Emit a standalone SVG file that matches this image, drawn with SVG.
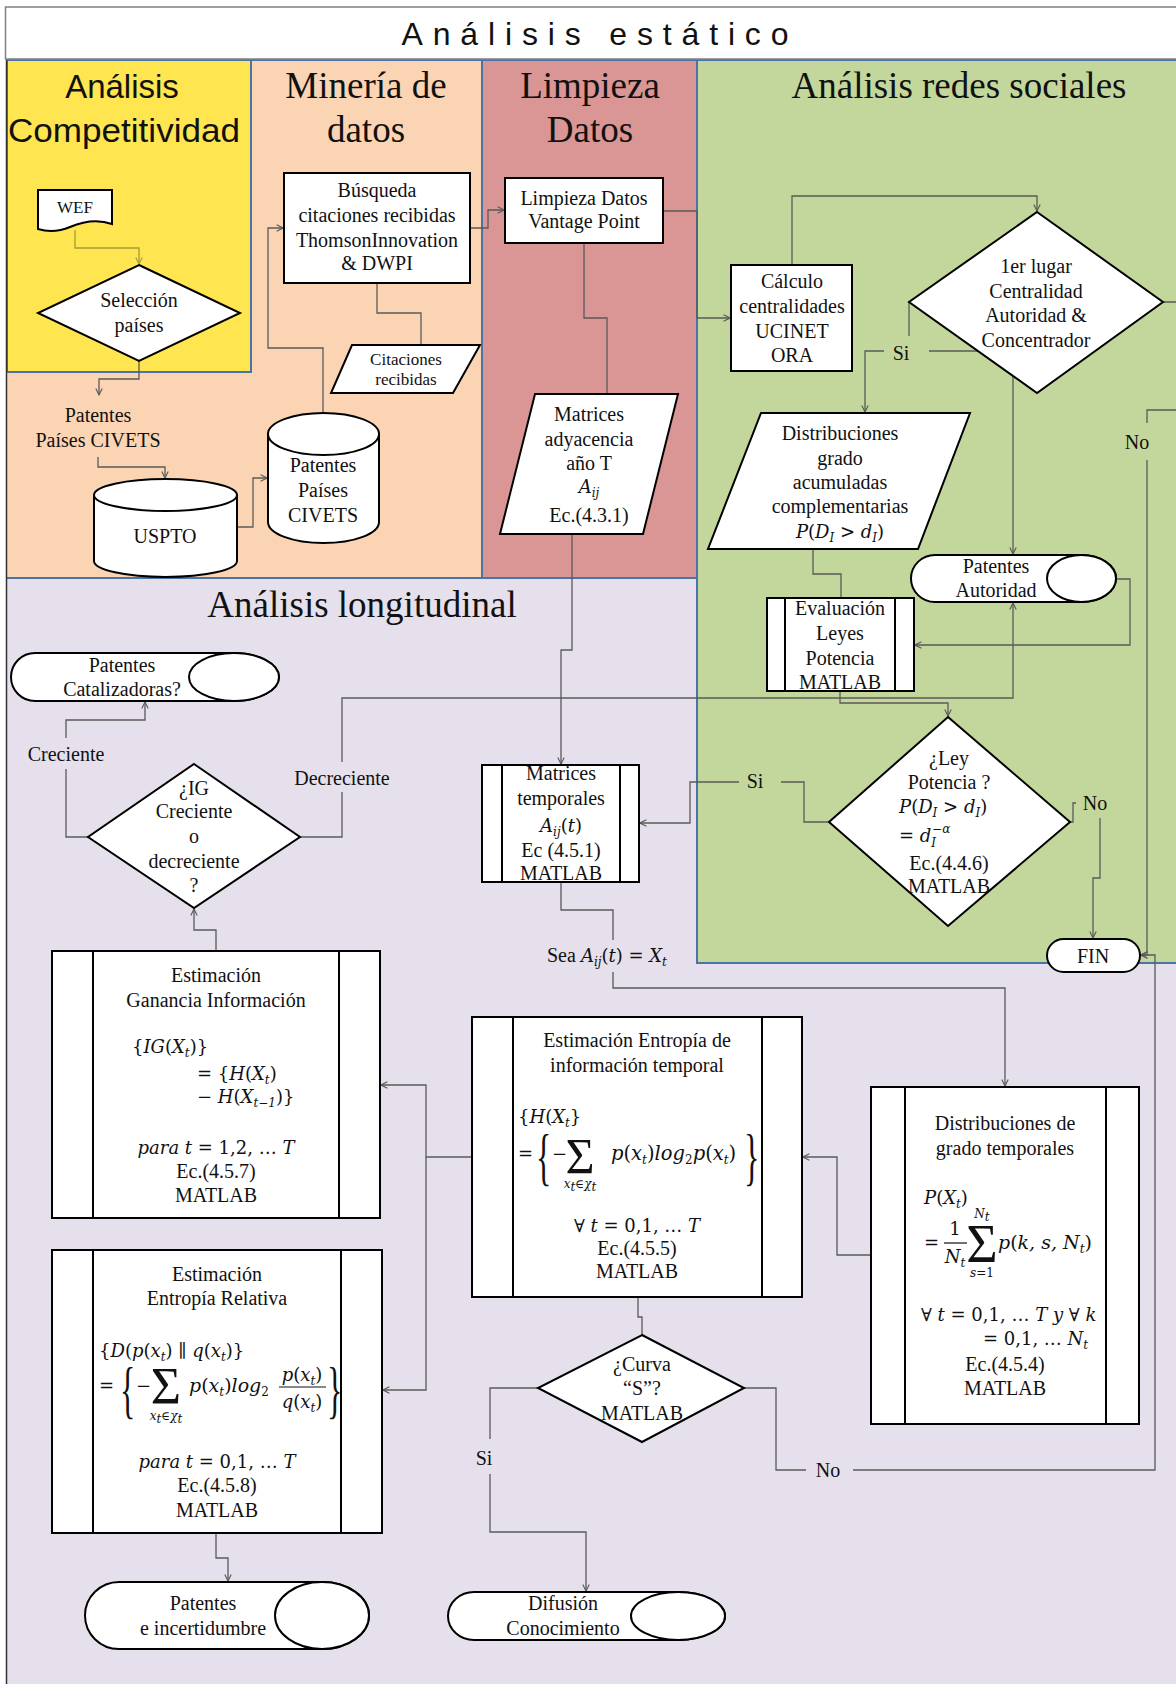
<svg xmlns="http://www.w3.org/2000/svg" width="1176" height="1684" viewBox="0 0 1176 1684">
<defs>
<style>
.tx{font-family:"Liberation Serif","Times New Roman",serif;font-size:20px;fill:#111;text-anchor:middle}
.sm{font-size:17px}
.hd{font-family:"Liberation Serif","Times New Roman",serif;font-size:37px;fill:#111;text-anchor:middle}
.sans{font-family:"Liberation Sans",Arial,sans-serif;fill:#111;text-anchor:middle}
.mt{font-family:"DejaVu Serif",serif;font-style:italic;font-size:18px;fill:#111}
.up{font-style:normal}
.sb{font-size:12px}
.rm{font-family:"Liberation Serif","Times New Roman",serif;font-style:normal;font-size:20px;fill:#111}
.nd{fill:#fff;stroke:#000;stroke-width:2}
.ln{fill:none;stroke:#000;stroke-width:2}
.c{fill:none;stroke:#5a5a5a;stroke-width:1.3}
.ca{fill:none;stroke:#5a5a5a;stroke-width:1.3;marker-end:url(#ar)}
.ol{fill:none;stroke:#9f9f3a;stroke-width:1.3;marker-end:url(#ar2)}
.pb{stroke:#4a73a8;stroke-width:2;fill:none}
</style>
<marker id="ar" viewBox="0 0 10 10" refX="9" refY="5" markerWidth="8" markerHeight="8" markerUnits="userSpaceOnUse" orient="auto">
<path d="M1,1 L9,5 L1,9" fill="none" stroke="#5a5a5a" stroke-width="1.4"/>
</marker>
<marker id="ar2" viewBox="0 0 10 10" refX="9" refY="5" markerWidth="8" markerHeight="8" markerUnits="userSpaceOnUse" orient="auto">
<path d="M1,1 L9,5 L1,9" fill="none" stroke="#9f9f3a" stroke-width="1.4"/>
</marker>
</defs>

<!-- swimlane panels -->
<g id="panels">
<rect x="6" y="60" width="476" height="518" fill="#fbd4b4"/>
<rect x="482" y="60" width="215" height="518" fill="#d99694"/>
<rect x="6" y="578" width="1176" height="1110" fill="#e5e0ec"/>
<rect x="697" y="60" width="485" height="903" fill="#c3d69b"/>
<rect x="7" y="60" width="244" height="312" fill="#ffe54f"/>
<path class="pb" d="M6,60 H1176 M482,60 V578 M697,60 V963 H1176 M6,578 H697"/>
<rect class="pb" x="7" y="60" width="244" height="312"/>
<line x1="6.5" y1="60" x2="6.5" y2="1684" stroke="#333" stroke-width="1.5"/>
<rect x="5.5" y="7" width="1180" height="52" fill="#fff" stroke="#808080" stroke-width="1.5"/>
<text class="sans" x="595" y="45" style="font-size:32px" textLength="387" lengthAdjust="spacing">Análisis estático</text>
<text class="sans" x="122" y="98" style="font-size:33px">Análisis</text>
<text class="sans" x="124" y="142" style="font-size:33px" textLength="232" lengthAdjust="spacingAndGlyphs">Competitividad</text>
<text class="hd" x="366" y="98">Minería de</text>
<text class="hd" x="366" y="142">datos</text>
<text class="hd" x="590" y="98">Limpieza</text>
<text class="hd" x="590" y="142">Datos</text>
<text class="hd" x="959" y="98">Análisis redes sociales</text>
<text class="hd" x="362" y="617">Análisis longitudinal</text>
</g>

<!-- connectors -->
<g id="connectors">
<path class="ol" d="M75,230 V248 H139 V264"/>
<path class="ca" d="M139,361 V379 H99 V395"/>
<path class="ca" d="M98,457 V467 H165 V478"/>
<path class="ca" d="M237,527 H253 V478 H267"/>
<path class="ca" d="M323,413 V348 H268 V228 H283"/>
<path class="c" d="M377,283 V313 H421 V345"/>
<path class="ca" d="M470,228 H488 V210 H504"/>
<path class="c" d="M584,243 V318 H607 V394"/>
<path class="ca" d="M663,211 H697 V318 H730"/>
<path class="ca" d="M792,265 V196 H1037 V211"/>
<path class="c" d="M909,302 V336"/>
<path class="ca" d="M884,351 H865 V412"/>
<path class="ca" d="M929,351 H1013 V554"/>
<path class="c" d="M1163,302 H1176 M1176,410 H1147 V423"/>
<path class="ca" d="M1147,460 V955 H1141"/>
<path class="c" d="M813,549 V574 H841 V598"/>
<path class="ca" d="M1116,579 H1130 V645 H915"/>
<path class="ca" d="M840,691 V703 H948 V716"/>
<path class="c" d="M829,822 H804 V782 H781"/>
<path class="ca" d="M739,782 H690 V823 H640"/>
<path class="c" d="M1070,822 H1073 V803 H1076"/>
<path class="ca" d="M1100,818 V878 H1093 V938"/>
<path class="ca" d="M572,534 V650 H561 V764"/>
<path class="c" d="M561,882 V910 H613 V940"/>
<path class="ca" d="M613,972 V988 H1005 V1086"/>
<path class="ca" d="M871,1255 H837 V1157 H803"/>
<path class="ca" d="M472,1157 H426 V1085 H381"/>
<path class="ca" d="M426,1157 V1390 H383"/>
<path class="c" d="M638,1297 V1317 H642 V1335"/>
<path class="c" d="M744,1388 H776 V1470 H806"/>
<path class="ca" d="M853,1470 H1155 V955 H1141"/>
<path class="c" d="M538,1388 H490 V1439"/>
<path class="ca" d="M490,1474 V1532 H586 V1591"/>
<path class="ca" d="M216,1533 V1558 H228 V1581"/>
<path class="ca" d="M216,951 V930 H194 V909"/>
<path class="c" d="M88,837 H66 V769"/>
<path class="ca" d="M66,738 V720 H145 V702"/>
<path class="c" d="M300,837 H342 V792"/>
<path class="ca" d="M342,762 V698 H1013 V603"/>
<text class="tx" x="901" y="360">Si</text>
<text class="tx" x="1137" y="449">No</text>
<text class="tx" x="755" y="788">Si</text>
<text class="tx" x="1095" y="810">No</text>
<text class="tx" x="828" y="1477">No</text>
<text class="tx" x="484" y="1465">Si</text>
<text class="tx" x="66" y="761">Creciente</text>
<text class="tx" x="342" y="785">Decreciente</text>
<text class="tx" x="98" y="422">Patentes</text>
<text class="tx" x="98" y="447">Países CIVETS</text>
<text class="mt" x="547" y="962"><tspan class="rm">Sea </tspan>A<tspan class="sb" dy="4">ij</tspan><tspan class="up" dy="-4">(</tspan>t<tspan class="up">) = </tspan>X<tspan class="sb" dy="4">t</tspan></text>
</g>

<!-- Análisis Competitividad -->
<g id="wef">
<path class="nd" d="M38,190 H112 V224 C98,219 84,221 70,227 C58,232 48,232 38,229 Z"/>
<text class="tx sm" x="75" y="213">WEF</text>
</g>
<g id="seleccion">
<polygon class="nd" points="139,265 240,313 139,361 38,313"/>
<text class="tx" x="139" y="307">Selección</text>
<text class="tx" x="139" y="332">países</text>
</g>

<!-- Minería de datos -->
<g id="uspto">
<path class="nd" d="M94,495 A71.5,16 0 0 1 237,495 V561 A71.5,16 0 0 1 94,561 Z"/>
<path class="ln" d="M94,495 A71.5,16 0 0 0 237,495"/>
<text class="tx" x="165" y="543">USPTO</text>
</g>
<g id="patentes-civets">
<path class="nd" d="M268,434 A55.5,21 0 0 1 379,434 V522 A55.5,21 0 0 1 268,522 Z"/>
<path class="ln" d="M268,434 A55.5,21 0 0 0 379,434"/>
<text class="tx" x="323" y="472">Patentes</text>
<text class="tx" x="323" y="497">Países</text>
<text class="tx" x="323" y="522">CIVETS</text>
</g>
<g id="busqueda">
<rect class="nd" x="284" y="173" width="186" height="110"/>
<text class="tx" x="377" y="197">Búsqueda</text>
<text class="tx" x="377" y="222">citaciones recibidas</text>
<text class="tx" x="377" y="247">ThomsonInnovation</text>
<text class="tx" x="377" y="270">&amp; DWPI</text>
</g>
<g id="citaciones">
<polygon class="nd" points="352,345 480,345 453,393 331,393"/>
<text class="tx sm" x="406" y="365">Citaciones</text>
<text class="tx sm" x="406" y="385">recibidas</text>
</g>

<!-- Limpieza Datos -->
<g id="limpieza">
<rect class="nd" x="505" y="178" width="158" height="65"/>
<text class="tx" x="584" y="205">Limpieza Datos</text>
<text class="tx" x="584" y="228">Vantage Point</text>
</g>
<g id="matrices-adyacencia">
<polygon class="nd" points="535,394 678,394 643,534 500,534"/>
<text class="tx" x="589" y="421">Matrices</text>
<text class="tx" x="589" y="446">adyacencia</text>
<text class="tx" x="589" y="470">año T</text>
<text class="mt" x="589" y="493" text-anchor="middle">A<tspan class="sb" dy="4">ij</tspan></text>
<text class="tx" x="589" y="522">Ec.(4.3.1)</text>
</g>

<!-- Análisis redes sociales -->
<g id="calculo">
<rect class="nd" x="731" y="265" width="121" height="106"/>
<text class="tx" x="792" y="288">Cálculo</text>
<text class="tx" x="792" y="313">centralidades</text>
<text class="tx" x="792" y="338">UCINET</text>
<text class="tx" x="792" y="362">ORA</text>
</g>
<g id="primer-lugar">
<polygon class="nd" points="1037,212 1163,302 1037,393 909,302"/>
<text class="tx" x="1036" y="273">1er lugar</text>
<text class="tx" x="1036" y="298">Centralidad</text>
<text class="tx" x="1036" y="322">Autoridad &amp;</text>
<text class="tx" x="1036" y="347">Concentrador</text>
</g>
<g id="distribuciones-grado">
<polygon class="nd" points="761,413 970,413 918,549 708,549"/>
<text class="tx" x="840" y="440">Distribuciones</text>
<text class="tx" x="840" y="465">grado</text>
<text class="tx" x="840" y="489">acumuladas</text>
<text class="tx" x="840" y="513">complementarias</text>
<text class="mt" x="840" y="538" text-anchor="middle">P<tspan class="up">(</tspan>D<tspan class="sb" dy="4">I</tspan><tspan class="up" dy="-4"> &gt; </tspan>d<tspan class="sb" dy="4">I</tspan><tspan class="up" dy="-4">)</tspan></text>
</g>
<g id="patentes-autoridad">
<path class="nd" d="M935,555 H1081.5 A34.5,23.5 0 0 1 1081.5,602 H935 A24,23.5 0 0 1 935,555 Z"/>
<ellipse class="nd" cx="1081.5" cy="578.5" rx="34.5" ry="23.5"/>
<text class="tx" x="996" y="573">Patentes</text>
<text class="tx" x="996" y="597">Autoridad</text>
</g>
<g id="evaluacion">
<rect class="nd" x="767" y="598" width="147" height="93"/>
<path class="ln" d="M785,598 V691 M895,598 V691"/>
<text class="tx" x="840" y="615">Evaluación</text>
<text class="tx" x="840" y="640">Leyes</text>
<text class="tx" x="840" y="665">Potencia</text>
<text class="tx" x="840" y="689">MATLAB</text>
</g>
<g id="ley-potencia">
<polygon class="nd" points="948,717 1070,822 948,926 829,822"/>
<text class="tx" x="949" y="765">¿Ley</text>
<text class="tx" x="949" y="789">Potencia ?</text>
<text class="mt" x="899" y="813">P<tspan class="up">(</tspan>D<tspan class="sb" dy="4">I</tspan><tspan class="up" dy="-4"> &gt; </tspan>d<tspan class="sb" dy="4">I</tspan><tspan class="up" dy="-4">)</tspan></text>
<text class="mt" x="899" y="842"><tspan class="up">= </tspan>d<tspan class="sb" dy="5">I</tspan><tspan class="sb" dx="-4" dy="-14">−α</tspan></text>
<text class="tx" x="949" y="870">Ec.(4.4.6)</text>
<text class="tx" x="949" y="893">MATLAB</text>
</g>
<g id="fin">
<rect class="nd" x="1047" y="939" width="93" height="33" rx="16.5"/>
<text class="tx" x="1093" y="963">FIN</text>
</g>

<!-- Análisis longitudinal -->
<g id="patentes-catalizadoras">
<path class="nd" d="M35,653 H234 A45,24 0 0 1 234,701 H35 A24,24 0 0 1 35,653 Z"/>
<ellipse class="nd" cx="234" cy="677" rx="45" ry="24"/>
<text class="tx" x="122" y="672">Patentes</text>
<text class="tx" x="122" y="696">Catalizadoras?</text>
</g>
<g id="ig-decision">
<polygon class="nd" points="194,764 300,837 194,908 88,837"/>
<text class="tx" x="194" y="795">¿IG</text>
<text class="tx" x="194" y="818">Creciente</text>
<text class="tx" x="194" y="843">o</text>
<text class="tx" x="194" y="868">decreciente</text>
<text class="tx" x="194" y="892">?</text>
</g>
<g id="matrices-temporales">
<rect class="nd" x="482" y="765" width="157" height="117"/>
<path class="ln" d="M502,765 V882 M620,765 V882"/>
<text class="tx" x="561" y="780">Matrices</text>
<text class="tx" x="561" y="805">temporales</text>
<text class="mt" x="561" y="832" text-anchor="middle">A<tspan class="sb" dy="4">ij</tspan><tspan class="up" dy="-4">(</tspan>t<tspan class="up">)</tspan></text>
<text class="tx" x="561" y="857">Ec (4.5.1)</text>
<text class="tx" x="561" y="880">MATLAB</text>
</g>
<g id="ganancia-informacion">
<rect class="nd" x="52" y="951" width="328" height="267"/>
<path class="ln" d="M93,951 V1218 M339,951 V1218"/>
<text class="tx" x="216" y="982">Estimación</text>
<text class="tx" x="216" y="1007">Ganancia Información</text>
<text class="mt" x="132" y="1053"><tspan class="up">{</tspan>IG<tspan class="up">(</tspan>X<tspan class="sb" dy="4">t</tspan><tspan class="up" dy="-4">)}</tspan></text>
<text class="mt" x="197" y="1080"><tspan class="up">= {</tspan>H<tspan class="up">(</tspan>X<tspan class="sb" dy="4">t</tspan><tspan class="up" dy="-4">)</tspan></text>
<text class="mt" x="197" y="1103"><tspan class="up">− </tspan>H<tspan class="up">(</tspan>X<tspan class="sb" dy="4">t−1</tspan><tspan class="up" dy="-4">)}</tspan></text>
<text class="mt" x="216" y="1154" text-anchor="middle">para t<tspan class="up"> = 1,2, … </tspan>T</text>
<text class="tx" x="216" y="1178">Ec.(4.5.7)</text>
<text class="tx" x="216" y="1202">MATLAB</text>
</g>
<g id="entropia-relativa">
<rect class="nd" x="52" y="1250" width="330" height="283"/>
<path class="ln" d="M93,1250 V1533 M341,1250 V1533"/>
<text class="tx" x="217" y="1281">Estimación</text>
<text class="tx" x="217" y="1305">Entropía Relativa</text>
<text class="mt" x="99" y="1357"><tspan class="up">{</tspan>D<tspan class="up">(</tspan>p<tspan class="up">(</tspan>x<tspan class="sb" dy="4">t</tspan><tspan class="up" dy="-4">) ∥ </tspan>q<tspan class="up">(</tspan>x<tspan class="sb" dy="4">t</tspan><tspan class="up" dy="-4">)}</tspan></text>
<text class="mt" x="99" y="1392"><tspan class="up">=</tspan></text>
<text class="rm" style="font-size:64px" transform="translate(120,1411) scale(0.5,1)">{</text>
<text class="mt" x="136" y="1392"><tspan class="up">−</tspan></text>
<text class="rm" style="font-size:52px" x="166" y="1404" text-anchor="middle">Σ</text>
<text class="mt sb" x="166" y="1420" text-anchor="middle">x<tspan dy="3">t</tspan><tspan class="up" dy="-3">∈</tspan>χ<tspan dy="3">t</tspan></text>
<text class="mt" x="189" y="1392" style="font-size:19px">p<tspan class="up">(</tspan>x<tspan class="sb" dy="4">t</tspan><tspan class="up" dy="-4">)</tspan>log<tspan class="sb up" dy="4">2</tspan></text>
<text class="mt" x="302" y="1381" text-anchor="middle">p<tspan class="up">(</tspan>x<tspan class="sb" dy="4">t</tspan><tspan class="up" dy="-4">)</tspan></text>
<line x1="279" y1="1387" x2="326" y2="1387" stroke="#111" stroke-width="1.2"/>
<text class="mt" x="302" y="1408" text-anchor="middle">q<tspan class="up">(</tspan>x<tspan class="sb" dy="4">t</tspan><tspan class="up" dy="-4">)</tspan></text>
<text class="rm" style="font-size:64px" transform="translate(327,1411) scale(0.5,1)">}</text>
<text class="mt" x="217" y="1468" text-anchor="middle">para t<tspan class="up"> = 0,1, … </tspan>T</text>
<text class="tx" x="217" y="1492">Ec.(4.5.8)</text>
<text class="tx" x="217" y="1517">MATLAB</text>
</g>
<g id="entropia-temporal">
<rect class="nd" x="472" y="1017" width="330" height="280"/>
<path class="ln" d="M513,1017 V1297 M762,1017 V1297"/>
<text class="tx" x="637" y="1047">Estimación Entropía de</text>
<text class="tx" x="637" y="1072">información temporal</text>
<text class="mt" x="518" y="1123"><tspan class="up">{</tspan>H<tspan class="up">(</tspan>X<tspan class="sb" dy="4">t</tspan><tspan class="up" dy="-4">}</tspan></text>
<text class="mt" x="518" y="1160"><tspan class="up">=</tspan></text>
<text class="rm" style="font-size:64px" transform="translate(536,1178) scale(0.5,1)">{</text>
<text class="mt" x="552" y="1160"><tspan class="up">−</tspan></text>
<text class="rm" style="font-size:50px" x="580" y="1173" text-anchor="middle">Σ</text>
<text class="mt sb" x="580" y="1188" text-anchor="middle">x<tspan dy="3">t</tspan><tspan class="up" dy="-3">∈</tspan>χ<tspan dy="3">t</tspan></text>
<text class="mt" x="611" y="1160" style="font-size:19.5px">p<tspan class="up">(</tspan>x<tspan class="sb" dy="4">t</tspan><tspan class="up" dy="-4">)</tspan>log<tspan class="sb up" dy="4">2</tspan><tspan dy="-4">p</tspan><tspan class="up">(</tspan>x<tspan class="sb" dy="4">t</tspan><tspan class="up" dy="-4">)</tspan></text>
<text class="rm" style="font-size:64px" transform="translate(744,1178) scale(0.5,1)">}</text>
<text class="mt" x="637" y="1232" text-anchor="middle"><tspan class="up">∀ </tspan>t<tspan class="up"> = 0,1, … </tspan>T</text>
<text class="tx" x="637" y="1255">Ec.(4.5.5)</text>
<text class="tx" x="637" y="1278">MATLAB</text>
</g>
<g id="distribuciones-temporales">
<rect class="nd" x="871" y="1087" width="268" height="337"/>
<path class="ln" d="M905,1087 V1424 M1106,1087 V1424"/>
<text class="tx" x="1005" y="1130">Distribuciones de</text>
<text class="tx" x="1005" y="1155">grado temporales</text>
<text class="mt" x="924" y="1204">P<tspan class="up">(</tspan>X<tspan class="sb" dy="4">t</tspan><tspan class="up" dy="-4">)</tspan></text>
<text class="mt" x="924" y="1249"><tspan class="up">=</tspan></text>
<text class="mt" x="955" y="1235" text-anchor="middle"><tspan class="up">1</tspan></text>
<line x1="944" y1="1243" x2="967" y2="1243" stroke="#111" stroke-width="1.2"/>
<text class="mt" x="955" y="1263" text-anchor="middle">N<tspan class="sb" dy="4">t</tspan></text>
<text class="mt sb" x="982" y="1218" text-anchor="middle">N<tspan dy="3">t</tspan></text>
<text class="rm" style="font-size:54px" x="982" y="1262" text-anchor="middle">Σ</text>
<text class="mt sb" x="982" y="1277" text-anchor="middle">s<tspan class="up">=1</tspan></text>
<text class="mt" x="998" y="1249" style="font-size:19px">p<tspan class="up">(</tspan>k, s, N<tspan class="sb" dy="4">t</tspan><tspan class="up" dy="-4">)</tspan></text>
<text class="mt" x="921" y="1321"><tspan class="up">∀ </tspan>t<tspan class="up"> = 0,1, … </tspan>T y<tspan class="up"> ∀ </tspan>k</text>
<text class="mt" x="983" y="1345"><tspan class="up">= 0,1, … </tspan>N<tspan class="sb" dy="4">t</tspan></text>
<text class="tx" x="1005" y="1371">Ec.(4.5.4)</text>
<text class="tx" x="1005" y="1395">MATLAB</text>
</g>
<g id="curva-s">
<polygon class="nd" points="642,1335 744,1388 642,1442 538,1388"/>
<text class="tx" x="642" y="1371">¿Curva</text>
<text class="tx" x="642" y="1395">“S”?</text>
<text class="tx" x="642" y="1420">MATLAB</text>
</g>
<g id="patentes-incertidumbre">
<path class="nd" d="M119,1582 H322 A47,33.5 0 0 1 322,1649 H119 A34,33.5 0 0 1 119,1582 Z"/>
<ellipse class="nd" cx="322" cy="1615.5" rx="47" ry="33.5"/>
<text class="tx" x="203" y="1610">Patentes</text>
<text class="tx" x="203" y="1635">e incertidumbre</text>
</g>
<g id="difusion">
<path class="nd" d="M474,1592 H678 A47,24 0 0 1 678,1640 H474 A26,24 0 0 1 474,1592 Z"/>
<ellipse class="nd" cx="678" cy="1616" rx="47" ry="24"/>
<text class="tx" x="563" y="1610">Difusión</text>
<text class="tx" x="563" y="1635">Conocimiento</text>
</g>
</svg>
